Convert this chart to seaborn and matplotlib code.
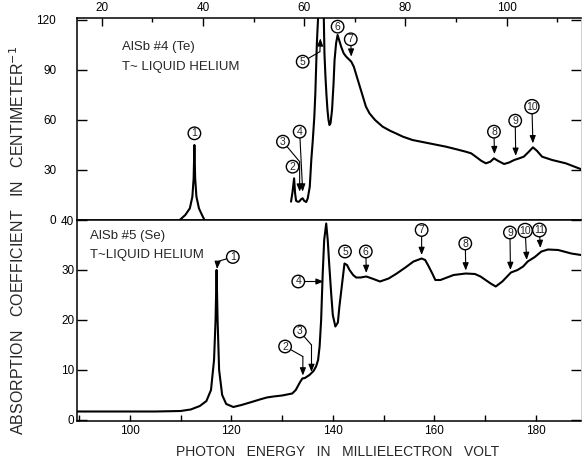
import matplotlib
matplotlib.use("Agg")
import matplotlib.pyplot as plt
import seaborn as sns
import pandas as pd
from matplotlib.ticker import MultipleLocator

# ---------------- data ----------------
# AlSb #4 (Te): isolated line near 38 meV
te_line_mev = [35.4, 36.5, 37.4, 37.9, 38.15, 38.3, 38.45, 38.7, 39.2, 39.8, 40.3]
te_line_abs = [0.0, 3.0, 7.0, 14.0, 25.0, 45.0, 25.0, 14.0, 7.0, 3.0, 0.0]

# AlSb #4 (Te): main absorption band (peak near 63 meV runs off scale)
te_band_mev = [57.4, 57.7, 58.0, 58.2, 58.4, 58.7, 59.0, 59.4, 59.7, 60.0, 60.4,
               60.7, 61.1, 61.4, 61.7, 62.0, 62.2, 62.5, 62.8, 63.3, 63.85, 64.0,
               64.2, 64.4, 64.6, 64.8, 65.0, 65.2, 65.5, 65.8, 66.0, 66.3, 66.6,
               66.9, 67.3, 67.8, 68.3, 68.8, 69.3, 69.8, 70.2, 70.7, 71.2, 71.7,
               72.2, 72.9, 74.0, 75.5, 77.0, 78.1, 79.5, 81.4, 84.7, 88.0, 90.0,
               91.9, 93.0, 93.9, 95.0, 95.9, 96.8, 97.5, 98.3, 99.5, 100.5, 101.5,
               102.5, 103.4, 104.4, 105.2, 106.0, 107.0, 108.0, 109.0, 111.7, 114.7]
te_band_abs = [11.0, 17.0, 25.0, 16.0, 11.5, 11.0, 11.0, 12.5, 13.0, 11.5, 10.8,
               13.0, 20.0, 36.0, 48.0, 62.0, 76.0, 106.0, 125.0, 140.0, 125.0, 100.0,
               86.0, 75.0, 66.0, 60.0, 57.0, 58.0, 66.0, 82.0, 96.0, 106.0, 111.0,
               108.0, 104.0, 100.0, 98.0, 96.5, 95.0, 92.0, 88.0, 83.0, 78.0, 73.0,
               68.0, 64.0, 60.0, 56.0, 53.5, 52.0, 50.0, 48.0, 46.0, 44.0, 42.5,
               41.0, 40.0, 38.0, 35.5, 34.0, 35.0, 37.0, 35.5, 33.6, 34.5, 36.0,
               37.0, 38.0, 41.0, 43.6, 41.5, 38.0, 37.0, 36.0, 34.0, 30.5]

# AlSb #5 (Se)
se_mev = [89.6, 95.0, 100.0, 105.0, 110.0, 112.0, 113.8, 115.1, 116.0, 116.6,
          116.9, 117.1, 117.3, 117.6, 118.2, 119.0, 120.4, 122.0, 124.0, 125.6,
          127.0, 128.3, 130.0, 132.0, 132.7, 133.5, 134.0, 134.5, 135.4, 136.2,
          136.7, 137.1, 137.4, 137.7, 138.0, 138.3, 138.7, 139.0, 139.3, 139.7,
          140.0, 140.5, 141.0, 141.3, 141.8, 142.3, 142.8, 143.3, 144.0, 144.6,
          145.5, 146.6, 148.0, 149.3, 151.0, 152.6, 154.3, 155.9, 157.5, 158.2,
          158.9, 159.6, 160.2, 161.2, 162.5, 163.8, 166.2, 168.0, 169.1, 171.1,
          172.1, 173.4, 175.1, 176.4, 177.5, 178.4, 179.8, 181.1, 182.4, 184.4,
          187.0, 188.9]
se_abs = [1.7, 1.7, 1.7, 1.7, 1.8, 2.1, 2.8, 3.8, 6.0, 12.0,
          20.0, 30.0, 20.0, 10.0, 5.0, 3.2, 2.6, 3.0, 3.6, 4.1,
          4.5, 4.7, 4.9, 5.3, 6.0, 7.5, 8.3, 8.4, 9.0, 9.8,
          10.7, 12.0, 14.7, 20.0, 29.0, 36.0, 39.3, 36.0, 31.0, 25.0,
          21.0, 18.7, 19.5, 22.7, 27.0, 31.3, 31.0, 30.0, 29.0, 28.5,
          28.5, 28.7, 28.2, 27.7, 28.3, 29.3, 30.5, 31.7, 32.3, 32.0,
          30.7, 29.3, 28.0, 28.0, 28.5, 29.0, 29.3, 29.2, 28.7, 27.3,
          26.7, 27.7, 29.5, 30.0, 30.7, 31.7, 32.6, 33.7, 34.1, 34.0,
          33.3, 33.0]

top_xticks = [20, 40, 60, 80, 100]
top_yticks = [0, 30, 60, 90, 120]
bottom_xticks = [100, 120, 140, 160, 180]
bottom_yticks = [0, 10, 20, 30, 40]

# circled line labels: (label, circle position, optional bend, optional arrow tip)
te_marks = [
    ("1", (38.3, 52.0), None, None),
    ("2", (57.7, 32.0), None, None),
    ("3", (55.8, 47.0), (59.1, 35.0), (59.1, 17.0)),
    ("4", (59.1, 53.0), None, (59.7, 17.0)),
    ("5", (59.7, 95.0), (63.1, 101.0), (63.2, 109.0)),
    ("6", (66.6, 116.0), None, None),
    ("7", (69.2, 108.4), None, (69.3, 98.0)),
    ("8", (97.5, 53.0), None, (97.6, 39.5)),
    ("9", (101.7, 59.6), None, (101.8, 38.5)),
    ("10", (105.0, 68.0), None, (105.2, 46.0)),
]
se_marks = [
    ("1", (120.3, 32.6), (117.3, 31.7), (117.2, 30.2)),
    ("2", (130.6, 14.7), (134.1, 12.7), (134.1, 8.9)),
    ("3", (133.5, 17.7), (135.8, 15.0), (135.8, 9.6)),
    ("4", (133.2, 27.7), None, (138.2, 27.7)),
    ("5", (142.4, 33.7), None, None),
    ("6", (146.5, 33.7), None, (146.6, 29.4)),
    ("7", (157.5, 38.0), None, (157.5, 33.0)),
    ("8", (166.1, 35.3), None, (166.2, 29.9)),
    ("9", (174.9, 37.5), None, (175.0, 30.0)),
    ("10", (177.9, 37.9), None, (178.2, 32.0)),
    ("11", (180.7, 38.0), None, (180.9, 34.4)),
]

# ---------------- style ----------------
sns.set_style("ticks")
plt.rcParams["font.family"] = ["Liberation Sans", "DejaVu Sans"]
plt.rcParams["axes.linewidth"] = 1.1
plt.rcParams["axes.edgecolor"] = "black"
plt.rcParams["xtick.color"] = "black"
plt.rcParams["ytick.color"] = "black"

W, H = 582, 466
fig = plt.figure(figsize=(W / 100, H / 100), dpi=100)
left, right = 77 / W, 581 / W
ax1 = fig.add_axes([left, 1 - 220 / H, right - left, (220 - 18) / H])
ax2 = fig.add_axes([left, 1 - 421 / H, right - left, (421 - 220) / H])

line_kw = dict(color="black", linewidth=1.5, sort=False, estimator=None, legend=False)
sns.lineplot(data=pd.DataFrame({"E": te_line_mev, "a": te_line_abs}), x="E", y="a", ax=ax1, **line_kw)
sns.lineplot(data=pd.DataFrame({"E": te_band_mev, "a": te_band_abs}), x="E", y="a", ax=ax1, **line_kw)
sns.lineplot(data=pd.DataFrame({"E": se_mev, "a": se_abs}), x="E", y="a", ax=ax2, **line_kw)

# ---------------- axes ----------------
ax1.set_xlim(15.1, 114.7)
ax1.set_ylim(0, 121.2)
ax1.set_xticks(top_xticks)
ax1.xaxis.set_minor_locator(MultipleLocator(10))
ax1.set_yticks(top_yticks)
ax1.xaxis.set_ticks_position("top")
ax1.tick_params(axis="x", which="major", direction="in", length=6, width=1.0,
                top=True, bottom=False, labeltop=True, labelbottom=False,
                labelsize=8.5, pad=3)
ax1.tick_params(axis="x", which="minor", direction="in", length=3, width=1.0,
                top=True, bottom=False)
ax1.tick_params(axis="y", direction="in", length=7, width=1.0, left=True, right=True,
                labelsize=8.5, pad=15)

ax2.set_xlim(89.6, 188.9)
ax2.set_ylim(-0.2, 40)
ax2.set_xticks(bottom_xticks)
ax2.xaxis.set_minor_locator(MultipleLocator(10))
ax2.set_yticks(bottom_yticks)
ax2.tick_params(axis="x", which="both", direction="in", length=4, width=1.0,
                top=False, bottom=True, labelsize=8.5, pad=3)
ax2.tick_params(axis="y", direction="in", length=7, width=1.0, left=True, right=True,
                labelsize=8.5, pad=2)

for ax in (ax1, ax2):
    ax.set_xlabel("")
    ax.set_ylabel("")
    ax.spines["right"].set_color("#c8c8c8")
    ax.spines["right"].set_linewidth(0.6)

# ---------------- text ----------------
txt_font = ["Liberation Sans Narrow", "Liberation Sans", "DejaVu Sans"]
ax1.text(0.089, 0.856, "AlSb #4 (Te)", transform=ax1.transAxes, fontsize=9.5,
         family=txt_font, va="center", ha="left")
ax1.text(0.089, 0.757, "T~ LIQUID HELIUM", transform=ax1.transAxes, fontsize=9.5,
         family=txt_font, va="center", ha="left")
ax2.text(0.026, 0.920, "AlSb #5 (Se)", transform=ax2.transAxes, fontsize=9.5,
         family=txt_font, va="center", ha="left")
ax2.text(0.026, 0.826, "T~LIQUID HELIUM", transform=ax2.transAxes, fontsize=9.5,
         family=txt_font, va="center", ha="left")

fig.text(0.031, 1 - 240 / H, "ABSORPTION   COEFFICIENT   IN   CENTIMETER$^{-1}$",
         rotation=90, ha="center", va="center", fontsize=11.5)
fig.text(338 / W, 1 - 452 / H, "PHOTON   ENERGY   IN   MILLIELECTRON   VOLT",
         ha="center", va="center", fontsize=10)

circle_box = dict(boxstyle="circle,pad=0.12", fc="white", ec="black", lw=1.0)
head = "-|>,head_length=0.45,head_width=0.18"


def label_marks(ax, marks):
    for text, circ, bend, tip in marks:
        if tip is None:
            ax.annotate(text, xy=circ, ha="center", va="center", fontsize=7.5,
                        bbox=circle_box, annotation_clip=False)
        elif bend is None:
            ax.annotate(text, xy=tip, xytext=circ, ha="center", va="center",
                        fontsize=7.5, bbox=circle_box, annotation_clip=False,
                        arrowprops=dict(arrowstyle=head, color="black", lw=0.8,
                                        shrinkA=0, shrinkB=0, mutation_scale=10))
        else:
            ax.annotate(text, xy=bend, xytext=circ, ha="center", va="center",
                        fontsize=7.5, bbox=circle_box, annotation_clip=False,
                        arrowprops=dict(arrowstyle="-", color="black", lw=0.8,
                                        shrinkA=0, shrinkB=0))
            ax.annotate("", xy=tip, xytext=bend, annotation_clip=False,
                        arrowprops=dict(arrowstyle=head, color="black", lw=0.8,
                                        shrinkA=0, shrinkB=0, mutation_scale=10))


label_marks(ax1, te_marks)
label_marks(ax2, se_marks)

fig.savefig("out.png", dpi=100)
